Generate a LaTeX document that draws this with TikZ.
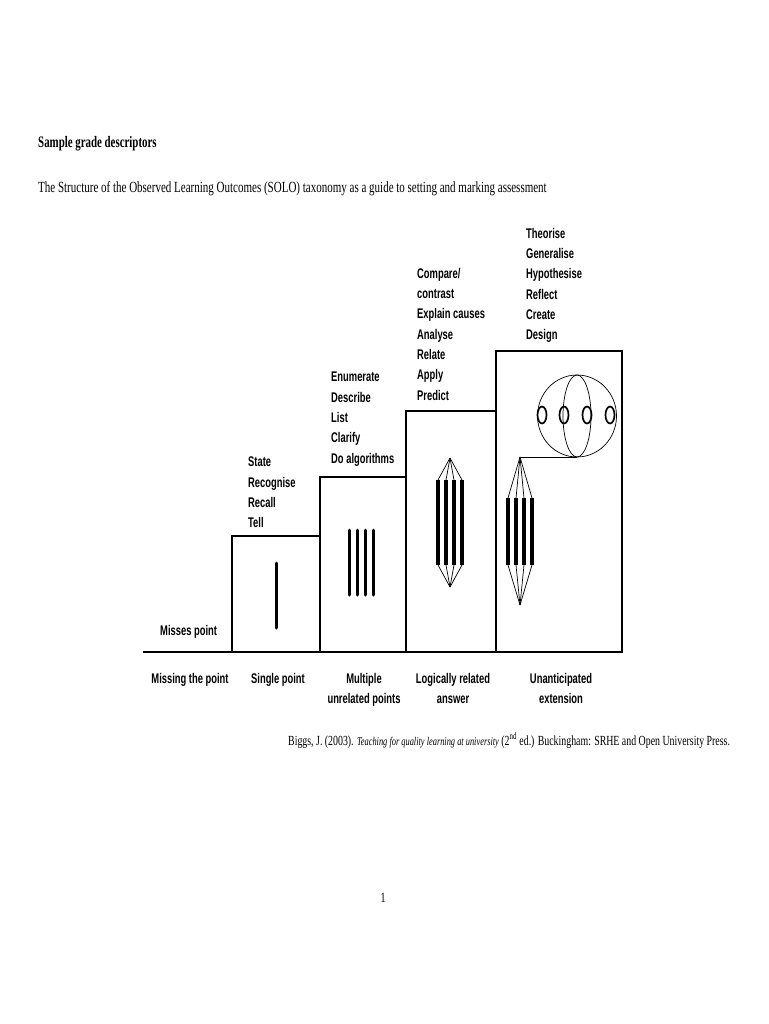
\documentclass[tikz,border=0pt]{standalone}
\usepackage{fontspec}
\usetikzlibrary{shapes.geometric}
\setmainfont{Liberation Serif}
\newfontfamily\serifT[FakeStretch=0.68]{Liberation Serif}
\newfontfamily\serifn[FakeStretch=0.71]{Liberation Serif}
\newfontfamily\sansn[FakeStretch=0.67]{Liberation Sans}
\begin{document}
\begin{tikzpicture}[x=1pt,y=-1pt,
  lbl/.style={font=\sansn\bfseries\fontsize{14}{20.3}\selectfont, inner sep=0pt, align=left, anchor=north west},
  blbl/.style={font=\sansn\bfseries\fontsize{14}{20}\selectfont, inner sep=0pt, align=center, anchor=north},
  stairbox/.style={draw, line width=2.8pt, inner sep=0pt, outer sep=0pt, fill=none},
  stroke/.style={line width=3pt, line cap=round},
  fineline/.style={line width=0.7pt},
  ring/.style={draw, ellipse, line width=1.7pt, minimum width=9pt, minimum height=17pt, inner sep=0pt}]
\useasboundingbox (0,0) rectangle (768,1024);
% titles
\node[anchor=base west, inner sep=0pt, font=\serifT\bfseries\fontsize{16}{18}\selectfont] (title) at (38,147.5) {Sample grade descriptors};
\node[anchor=base west, inner sep=0pt, font=\serifn\fontsize{15.5}{18}\selectfont] (subtitle) at (38,193) {The Structure of the Observed Learning Outcomes (SOLO) taxonomy as a guide to setting and marking assessment};
% staircase
\node[stairbox, minimum width=88pt, minimum height=116pt] (b1) at (276,594) {};
\node[stairbox, minimum width=86pt, minimum height=175pt] (b2) at (363,564.5) {};
\node[stairbox, minimum width=90pt, minimum height=241pt] (b3) at (451,531.5) {};
\node[stairbox, minimum width=126pt, minimum height=301pt] (b4) at (559,501.5) {};
\coordinate (baseL) at (143,652);
\draw[line width=2.8pt] (baseL) -- (b1.south west);
% box 1
\draw[stroke] (276,563) -- (276,628);
% box 2
\foreach \x in {349,357,365,373} \draw[stroke] (\x,530) -- (\x,595);
% box 3
\coordinate (a3t) at (450,458);
\coordinate (a3b) at (450,587);
\foreach \x in {438,446,454,462} {
  \draw[stroke, line width=3.5pt, line cap=butt] (\x,480) -- (\x,565);
  \draw[fineline] (a3t) -- (\x,480);
  \draw[fineline] (a3b) -- (\x,565);
}
% box 4
\coordinate (a4t) at (520,457);
\coordinate (a4b) at (520,605);
\foreach \x in {508,516,524,532} {
  \draw[stroke, line width=3.5pt, line cap=butt] (\x,498) -- (\x,565);
  \draw[fineline] (a4t) -- (\x,498);
  \draw[fineline] (a4b) -- (\x,565);
}
\node[draw, ellipse, fineline, minimum width=79pt, minimum height=82pt, inner sep=0pt, outer sep=0pt] (sphere) at (577,416) {};
\node[draw, ellipse, fineline, minimum width=28pt, minimum height=82pt, inner sep=0pt] (meridian) at (577,416) {};
\draw[fineline] (a4t) -- (sphere.south);
\node[ring] (r1) at (542,415) {};
\node[ring] (r2) at (564,415) {};
\node[ring] (r3) at (587,415) {};
\node[ring] (r4) at (610,415) {};
% labels above
\node[lbl] (l0) at (160,625) {Misses point};
\node[lbl] (l1) at (248,457) {State\\Recognise\\Recall\\Tell};
\node[lbl] (l2) at (331,372) {Enumerate\\Describe\\List\\Clarify\\Do algorithms};
\node[lbl] (l3) at (417,268) {Compare/\\contrast\\Explain causes\\Analyse\\Relate\\Apply\\Predict};
\node[lbl] (l4) at (526,228) {Theorise\\Generalise\\Hypothesise\\Reflect\\Create\\Design};
% labels below
\node[blbl] (c0) at (190,673) {Missing the point};
\node[blbl] (c1) at (278,673) {Single point};
\node[blbl] (c2) at (364,673) {Multiple\\unrelated points};
\node[blbl] (c3) at (453,673) {Logically related\\answer};
\node[blbl] (c4) at (561,673) {Unanticipated\\extension};
% citation
\node[anchor=base west, inner sep=0pt, font=\serifn\fontsize{13.9}{16}\selectfont] (cite) at (288,745) {Biggs, J. (2003). {\itshape\fontsize{11.8}{14}\selectfont Teaching for quality learning at university} (2\textsuperscript{nd} ed.) Buckingham: SRHE and Open University Press.};
\node[anchor=base, inner sep=0pt, font=\serifn\fontsize{14}{16}\selectfont] (page) at (383,902) {1};
\end{tikzpicture}
\end{document}
